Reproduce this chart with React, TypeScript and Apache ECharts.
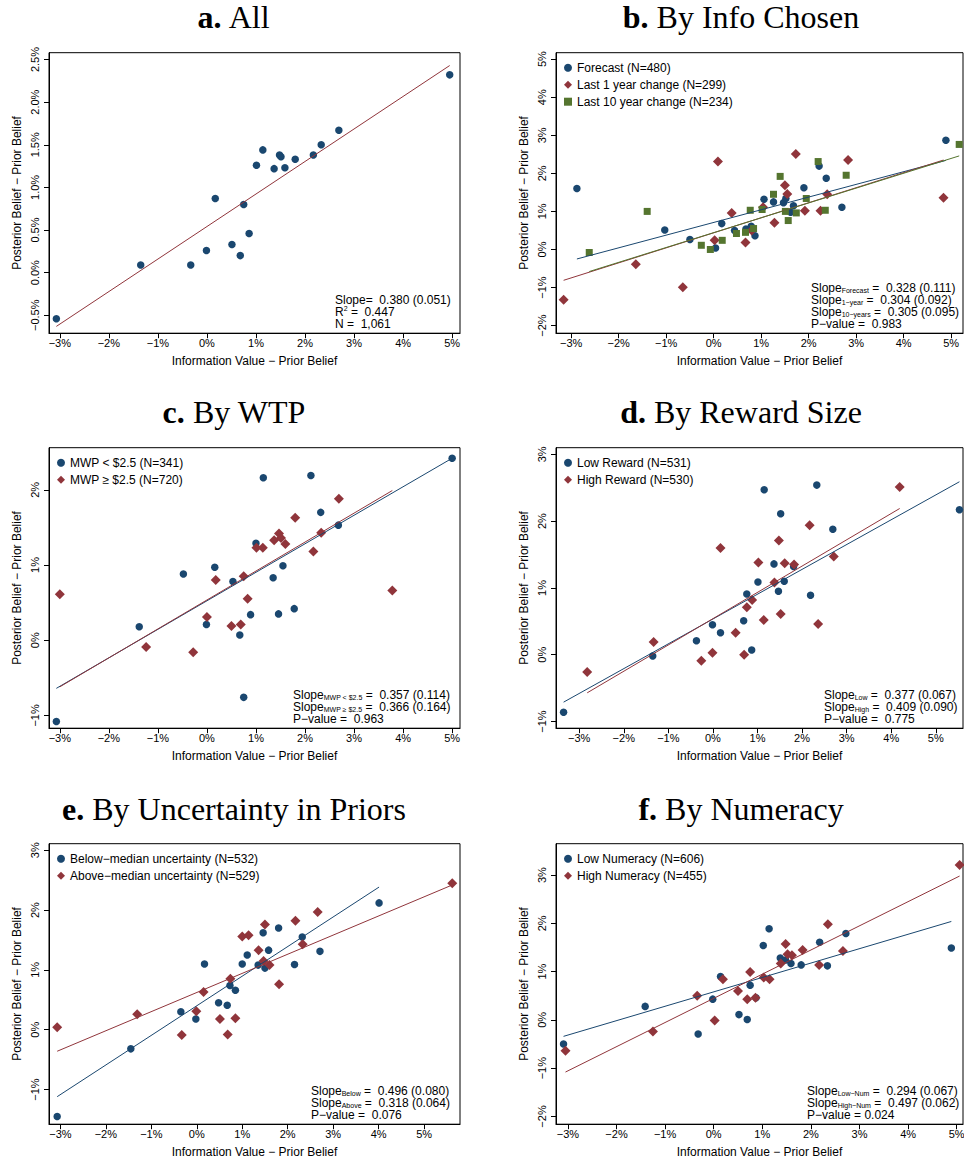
import React, { useEffect, useRef } from 'react';
import * as echarts from 'echarts';

// ---------- colours ----------
const NAVY = '#1a476f';
const MAROON = '#90353b';
const GREEN = '#55752f';

// ---------- tick values ----------
const xTicks = [-3, -2, -1, 0, 1, 2, 3, 4, 5];
const aYTicks = [-0.5, 0, 0.5, 1, 1.5, 2, 2.5];
const bYTicks = [-2, -1, 0, 1, 2, 3, 4, 5];
const cYTicks = [-1, 0, 1, 2];
const dYTicks = [-1, 0, 1, 2, 3];
const eYTicks = [-1, 0, 1, 2, 3];
const fYTicks = [-2, -1, 0, 1, 2, 3];

// ---------- a. All ----------
const aAllX = [-3.07, -1.35, -0.33, -0.01, 0.17, 0.51, 0.68, 0.75, 0.86, 1.01, 1.14, 1.37, 1.48, 1.51, 1.59, 1.80, 2.17, 2.33, 2.69, 4.95];
const aAllY = [-0.54, 0.09, 0.09, 0.26, 0.87, 0.33, 0.20, 0.80, 0.46, 1.26, 1.44, 1.22, 1.38, 1.36, 1.23, 1.33, 1.38, 1.50, 1.67, 2.32];
const aAllFit = [0.541, 0.3815]; // intercept, slope

// ---------- b. By Info Chosen ----------
const bForecastX = [-2.88, -1.03, -0.50, 0.04, 0.17, 0.44, 0.68, 0.79, 0.87, 1.06, 1.26, 1.47, 1.52, 1.62, 1.68, 1.90, 2.22, 2.37, 2.70, 4.89];
const bForecastY = [1.60, 0.51, 0.26, 0.04, 0.68, 0.50, 0.54, 0.61, 0.36, 1.32, 1.25, 1.23, 1.34, 0.98, 1.15, 1.62, 2.19, 1.87, 1.11, 2.87];
const bForecastFit = [0.71, 0.3333];
const b1yX = [-3.16, -1.64, -0.65, 0.02, 0.09, 0.38, 0.67, 0.80, 1.04, 1.28, 1.50, 1.55, 1.73, 1.92, 2.25, 2.39, 2.83, 4.84];
const b1yY = [-1.32, -0.39, -0.99, 0.24, 2.31, 0.96, 0.18, 0.50, 1.11, 0.70, 1.69, 1.46, 2.51, 1.02, 1.02, 1.45, 2.35, 1.36];
const b1yFit = [0.438, 0.395];
const b10yX = [-2.62, -1.40, -0.26, -0.07, 0.18, 0.48, 0.67, 0.77, 0.84, 1.02, 1.26, 1.40, 1.51, 1.57, 1.74, 1.95, 2.20, 2.35, 2.79, 5.17];
const b10yY = [-0.08, 1.00, 0.11, 0.00, 0.24, 0.42, 0.45, 1.03, 0.55, 1.05, 1.45, 1.92, 1.00, 0.76, 0.96, 1.34, 2.31, 1.03, 1.95, 2.76];
const b10yFit = [0.442, 0.39];

// ---------- c. By WTP ----------
const cLowX = [-3.07, -1.38, -0.48, -0.01, 0.16, 0.53, 0.67, 0.75, 0.89, 1.00, 1.15, 1.35, 1.46, 1.55, 1.78, 2.12, 2.32, 2.68, 5.00];
const cLowY = [-1.08, 0.18, 0.88, 0.21, 0.97, 0.78, 0.07, -0.76, 0.34, 1.29, 2.16, 0.83, 0.35, 0.99, 0.42, 2.19, 1.70, 1.53, 2.42];
const cLowFit = [0.524, 0.3792];
const cHighX = [-3.00, -1.24, -0.28, 0.00, 0.18, 0.50, 0.69, 0.75, 0.83, 1.01, 1.14, 1.37, 1.47, 1.51, 1.60, 1.80, 2.17, 2.33, 2.69, 3.78];
const cHighY = [0.61, -0.09, -0.16, 0.31, 0.80, 0.19, 0.21, 0.85, 0.55, 1.23, 1.23, 1.33, 1.42, 1.36, 1.28, 1.63, 1.18, 1.43, 1.88, 0.66];
const cHighFit = [0.535, 0.385];

// ---------- d. By Reward Size ----------
const dLowX = [-3.35, -1.35, -0.37, -0.01, 0.17, 0.69, 0.76, 0.87, 1.01, 1.15, 1.37, 1.47, 1.52, 1.60, 1.81, 2.19, 2.33, 2.69, 5.53];
const dLowY = [-0.86, -0.02, 0.21, 0.45, 0.33, 0.51, 0.91, 0.07, 1.09, 2.47, 1.36, 0.95, 2.11, 1.10, 1.32, 0.89, 2.54, 1.88, 2.17];
const dLowFit = [0.535, 0.3716];
const dHighX = [-2.82, -1.33, -0.26, -0.01, 0.17, 0.51, 0.70, 0.76, 0.88, 1.02, 1.14, 1.38, 1.48, 1.52, 1.61, 1.82, 2.17, 2.36, 2.71, 4.19];
const dHighY = [-0.26, 0.19, -0.09, 0.03, 1.60, 0.33, 0.00, 0.71, 0.82, 1.38, 0.52, 1.08, 1.71, 0.61, 1.37, 1.35, 1.94, 0.46, 1.47, 2.51];
const dHighFit = [0.54, 0.3937];

// ---------- e. By Uncertainty in Priors ----------
const eBelowX = [-3.07, -1.45, -0.35, -0.02, 0.17, 0.48, 0.67, 0.73, 0.85, 1.00, 1.11, 1.35, 1.46, 1.50, 1.58, 1.80, 2.15, 2.32, 2.71, 4.01];
const eBelowY = [-1.45, -0.32, 0.30, 0.18, 1.10, 0.45, 0.41, 0.74, 0.66, 1.10, 1.25, 1.08, 1.62, 1.03, 1.33, 1.70, 1.09, 1.55, 1.31, 2.12];
const eBelowFit = [0.40, 0.495];
const eAboveX = [-3.07, -1.31, -0.33, -0.01, 0.15, 0.51, 0.68, 0.74, 0.85, 1.00, 1.14, 1.36, 1.47, 1.50, 1.60, 1.81, 2.17, 2.33, 2.66, 5.62];
const eAboveY = [0.04, 0.26, -0.09, 0.31, 0.63, 0.18, -0.08, 0.85, 0.19, 1.56, 1.58, 1.33, 1.15, 1.76, 1.08, 0.76, 1.82, 1.43, 1.97, 2.45];
const eAboveFit = [0.622, 0.3199];

// ---------- f. By Numeracy ----------
const fLowX = [-3.09, -1.41, -0.32, -0.02, 0.14, 0.52, 0.69, 0.75, 0.87, 1.02, 1.14, 1.37, 1.48, 1.59, 1.80, 2.18, 2.34, 2.72, 4.89];
const fLowY = [-0.50, 0.28, -0.29, 0.43, 0.90, 0.11, 0.01, 0.72, 0.46, 1.54, 1.89, 1.28, 1.24, 1.17, 1.14, 1.61, 1.12, 1.79, 1.49];
const fLowFit = [0.581, 0.2982];
const fHighX = [-3.05, -1.25, -0.34, 0.02, 0.19, 0.50, 0.69, 0.75, 0.86, 1.03, 1.15, 1.38, 1.48, 1.52, 1.61, 1.83, 2.17, 2.35, 2.66, 5.06];
const fHighY = [-0.64, -0.24, 0.50, -0.01, 0.84, 0.60, 0.43, 0.99, 0.46, 0.88, 0.84, 1.17, 1.57, 1.36, 1.34, 1.45, 1.14, 1.98, 1.43, 3.21];
const fHighFit = [0.447, 0.5006];

// ---------- texts ----------
const MINUS = '\u2212';
const xTitle = `Information Value ${MINUS} Prior Belief`;
const yTitle = `Posterior Belief ${MINUS} Prior Belief`;

type Ser = { name: string; x: number[]; y: number[]; fit: number[]; color: string; symbol: string; size: number };
type Note = [string, string, string, string?]; // main, sub/sup, rest, kind

const SANS = 'Liberation Sans, Arial, Helvetica, sans-serif';
const SERIF = 'Liberation Serif, Times New Roman, serif';

const colL = { left: 49, width: 411 };
const colR = { left: 556, width: 407 };
const rows = [52.7, 447.7, 843.7];
const H = 280.5;
const titleY = [16.5, 412, 808.5];

const panels = [
  {
    letter: 'a.', title: ' All', col: colL, row: 0, titleX: 234,
    xr: [-3.22, 5.16], yr: [-0.71, 2.58], yTicks: aYTicks, yDec: 1, legend: false, noteX: 335,
    series: [{ name: 'All', x: aAllX, y: aAllY, fit: aAllFit, color: NAVY, symbol: 'circle', size: 7.5 }] as Ser[],
    lineColors: [MAROON],
    notes: [['Slope=  0.380 (0.051)', '', '', 'plain'], ['R', '2', ' =  0.447', 'sup'], ['N =  1,061', '', '', 'plain']] as Note[],
  },
  {
    letter: 'b.', title: ' By Info Chosen', col: colR, row: 0, titleX: 741,
    xr: [-3.32, 5.25], yr: [-2.2, 5.17], yTicks: bYTicks, yDec: 0, legend: true, noteX: 811,
    series: [
      { name: 'Forecast (N=480)', x: bForecastX, y: bForecastY, fit: bForecastFit, color: NAVY, symbol: 'circle', size: 7.5 },
      { name: 'Last 1 year change (N=299)', x: b1yX, y: b1yY, fit: b1yFit, color: MAROON, symbol: 'diamond', size: 10 },
      { name: 'Last 10 year change (N=234)', x: b10yX, y: b10yY, fit: b10yFit, color: GREEN, symbol: 'rect', size: 7 },
    ] as Ser[],
    lineColors: [NAVY, MAROON, GREEN],
    notes: [
      ['Slope', 'Forecast', ' =  0.328 (0.111)', 'sub'],
      ['Slope', `1${MINUS}year`, ' =  0.304 (0.092)', 'sub'],
      ['Slope', `10${MINUS}years`, ' =  0.305 (0.095)', 'sub'],
      [`P${MINUS}value =  0.983`, '', '', 'plain'],
    ] as Note[],
  },
  {
    letter: 'c.', title: ' By WTP', col: colL, row: 1, titleX: 234,
    xr: [-3.22, 5.16], yr: [-1.17, 2.56], yTicks: cYTicks, yDec: 0, legend: true, noteX: 293,
    series: [
      { name: 'MWP < $2.5 (N=341)', x: cLowX, y: cLowY, fit: cLowFit, color: NAVY, symbol: 'circle', size: 7.5 },
      { name: 'MWP \u2265 $2.5 (N=720)', x: cHighX, y: cHighY, fit: cHighFit, color: MAROON, symbol: 'diamond', size: 10 },
    ] as Ser[],
    lineColors: [NAVY, MAROON],
    notes: [
      ['Slope', 'MWP < $2.5', ' =  0.357 (0.114)', 'sub'],
      ['Slope', 'MWP \u2265 $2.5', ' =  0.366 (0.164)', 'sub'],
      [`P${MINUS}value =  0.963`, '', '', 'plain'],
    ] as Note[],
  },
  {
    letter: 'd.', title: ' By Reward Size', col: colR, row: 1, titleX: 741,
    xr: [-3.52, 5.61], yr: [-1.1, 3.1], yTicks: dYTicks, yDec: 0, legend: true, noteX: 824,
    series: [
      { name: 'Low Reward (N=531)', x: dLowX, y: dLowY, fit: dLowFit, color: NAVY, symbol: 'circle', size: 7.5 },
      { name: 'High Reward (N=530)', x: dHighX, y: dHighY, fit: dHighFit, color: MAROON, symbol: 'diamond', size: 10 },
    ] as Ser[],
    lineColors: [NAVY, MAROON],
    notes: [
      ['Slope', 'Low', ' =  0.377 (0.067)', 'sub'],
      ['Slope', 'High', ' =  0.409 (0.090)', 'sub'],
      [`P${MINUS}value =  0.775`, '', '', 'plain'],
    ] as Note[],
  },
  {
    letter: 'e.', title: ' By Uncertainty in Priors', col: colL, row: 2, titleX: 234,
    xr: [-3.25, 5.79], yr: [-1.58, 3.11], yTicks: eYTicks, yDec: 0, legend: true, noteX: 311,
    series: [
      { name: `Below${MINUS}median uncertainty (N=532)`, x: eBelowX, y: eBelowY, fit: eBelowFit, color: NAVY, symbol: 'circle', size: 7.5 },
      { name: `Above${MINUS}median uncertainty (N=529)`, x: eAboveX, y: eAboveY, fit: eAboveFit, color: MAROON, symbol: 'diamond', size: 10 },
    ] as Ser[],
    lineColors: [NAVY, MAROON],
    notes: [
      ['Slope', 'Below', ' =  0.496 (0.080)', 'sub'],
      ['Slope', 'Above', ' =  0.318 (0.064)', 'sub'],
      [`P${MINUS}value =  0.076`, '', '', 'plain'],
    ] as Note[],
  },
  {
    letter: 'f.', title: ' By Numeracy', col: colR, row: 2, titleX: 741,
    xr: [-3.245, 5.13], yr: [-2.16, 3.65], yTicks: fYTicks, yDec: 0, legend: true, noteX: 807,
    series: [
      { name: 'Low Numeracy (N=606)', x: fLowX, y: fLowY, fit: fLowFit, color: NAVY, symbol: 'circle', size: 7.5 },
      { name: 'High Numeracy (N=455)', x: fHighX, y: fHighY, fit: fHighFit, color: MAROON, symbol: 'diamond', size: 10 },
    ] as Ser[],
    lineColors: [NAVY, MAROON],
    notes: [
      ['Slope', `Low${MINUS}Num`, ' =  0.294 (0.067)', 'sub'],
      ['Slope', `High${MINUS}Num`, ' =  0.497 (0.062)', 'sub'],
      [`P${MINUS}value = 0.024`, '', '', 'plain'],
    ] as Note[],
  },
];

const fmt = (dec: number) => (v: number) => {
  const s = Math.abs(v).toFixed(dec) + '%';
  return v < -1e-9 ? MINUS + s : s;
};

function buildOption() {
  const grid: any[] = [];
  const xAxis: any[] = [];
  const yAxis: any[] = [];
  const series: any[] = [];
  const legend: any[] = [];
  const graphic: any[] = [];

  panels.forEach((p, i) => {
    const top = rows[p.row];
    grid.push({
      left: p.col.left, top, width: p.col.width, height: H,
      show: true, borderColor: '#000', borderWidth: 1, backgroundColor: '#fff',
      containLabel: false, outerBoundsMode: 'none',
    });
    xAxis.push({
      type: 'value', gridIndex: i, min: p.xr[0], max: p.xr[1],
      axisLine: { show: true, onZero: false, lineStyle: { color: '#000', width: 1 } },
      axisTick: { show: true, inside: false, length: 5, lineStyle: { color: '#000', width: 1 }, customValues: xTicks },
      axisLabel: { customValues: xTicks, formatter: fmt(0), color: '#000', fontSize: 11, fontFamily: SANS, margin: 4 },
      splitLine: { show: false },
      name: xTitle, nameLocation: 'middle', nameGap: 22,
      nameTextStyle: { color: '#000', fontSize: 12, fontFamily: SANS },
    });
    yAxis.push({
      type: 'value', gridIndex: i, min: p.yr[0], max: p.yr[1],
      axisLine: { show: true, onZero: false, lineStyle: { color: '#000', width: 1 } },
      axisTick: { show: true, inside: false, length: 5, lineStyle: { color: '#000', width: 1 }, customValues: p.yTicks },
      axisLabel: { customValues: p.yTicks, formatter: fmt(p.yDec), color: '#000', fontSize: 11, fontFamily: SANS, rotate: 90, margin: 9 },
      splitLine: { show: false },
      name: yTitle, nameLocation: 'middle', nameGap: 26,
      nameTextStyle: { color: '#000', fontSize: 12, fontFamily: SANS },
    });

    p.series.forEach((s, k) => {
      series.push({
        type: 'scatter', name: s.name, xAxisIndex: i, yAxisIndex: i,
        data: s.x.map((xv, j) => [xv, s.y[j]]),
        symbol: s.symbol, symbolSize: s.size,
        itemStyle: { color: s.color, opacity: 1 },
        z: 3, silent: true,
      });
    });
    p.series.forEach((s, k) => {
      const x0 = Math.min(...s.x);
      const x1 = Math.max(...s.x);
      const [b0, b1] = s.fit;
      series.push({
        type: 'line', xAxisIndex: i, yAxisIndex: i,
        data: [[x0, b0 + b1 * x0], [x1, b0 + b1 * x1]],
        symbol: 'none', showSymbol: false,
        lineStyle: { color: p.lineColors[k], width: 1 },
        z: 4, silent: true,
      });
    });

    if (p.legend) {
      legend.push({
        data: p.series.map((s) => ({ name: s.name, icon: s.symbol })),
        left: p.col.left + 8, top: top + 8, orient: 'vertical',
        itemWidth: 8, itemHeight: 8, itemGap: 3, padding: 0,
        selectedMode: false,
        textStyle: { fontSize: 12, color: '#000', fontFamily: SANS, lineHeight: 14 },
      });
    }

    // panel title
    graphic.push({
      type: 'text', left: undefined, x: p.titleX, y: titleY[p.row], silent: true,
      style: {
        text: `{b|${p.letter}}{n|${p.title}}`,
        rich: {
          b: { fontWeight: 'bold', fontSize: 32, fontFamily: SERIF, fill: '#000' },
          n: { fontSize: 32, fontFamily: SERIF, fill: '#000' },
        },
        fill: '#000',
        align: 'center', verticalAlign: 'middle',
        textAlign: 'center', textVerticalAlign: 'middle',
      },
    });

    // notes
    const bottom = top + H;
    const n = p.notes.length;
    p.notes.forEach((nt, j) => {
      const y = bottom - 9.5 - (n - 1 - j) * 12;
      let text: string;
      if (nt[3] === 'sub') text = `{t|${nt[0]}}{s|${nt[1]}}{t|${nt[2]}}`;
      else if (nt[3] === 'sup') text = `{t|${nt[0]}}{p|${nt[1]}}{t|${nt[2]}}`;
      else text = `{t|${nt[0]}}`;
      graphic.push({
        type: 'text', x: p.noteX, y, silent: true,
        style: {
          text,
          rich: {
            t: { fontSize: 12, fontFamily: SANS, fill: '#000', lineHeight: 13 },
            s: { fontSize: 7, fontFamily: SANS, fill: '#000', verticalAlign: 'bottom', lineHeight: 13, padding: [0, 0, 0, 0] },
            p: { fontSize: 7, fontFamily: SANS, fill: '#000', verticalAlign: 'top', lineHeight: 13 },
          },
          align: 'left', verticalAlign: 'middle',
          textAlign: 'left', textVerticalAlign: 'middle',
        },
      });
    });
  });

  return {
    animation: false,
    backgroundColor: '#fff',
    grid, xAxis, yAxis, series, legend, graphic,
  };
}

export default function App() {
  const ref = useRef<HTMLDivElement>(null);
  useEffect(() => {
    document.body.style.margin = '0';
    if (!ref.current) return;
    const chart = echarts.init(ref.current, null, { renderer: 'svg' });
    chart.setOption(buildOption() as any);
    return () => chart.dispose();
  }, []);
  return <div ref={ref} style={{ width: 964, height: 1166, background: '#fff' }} />;
}
